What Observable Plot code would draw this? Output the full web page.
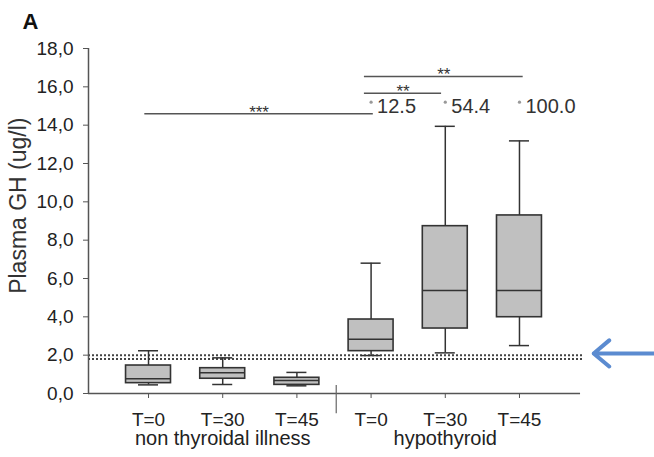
<!DOCTYPE html>
<html>
<head>
<meta charset="utf-8">
<script src="https://cdn.jsdelivr.net/npm/d3@7"></script>
<script src="https://cdn.jsdelivr.net/npm/@observablehq/plot@0.6"></script>
<style>
  html, body { margin: 0; padding: 0; background: #fff; }
  #chart { width: 654px; height: 457px; }
</style>
</head>
<body>
<div id="chart"></div>
<script>
// ---- data ----
const groupNames = ["non thyroidal illness", "hypothyroid"];
const groupCenters = [2, 5];
const timeLabels = ["T=0", "T=30", "T=45", "T=0", "T=30", "T=45"];
const positions = [1, 2, 3, 4, 5, 6];
const whiskerLow  = [0.45, 0.47, 0.40, 1.98, 2.12, 2.50];
const q1          = [0.54, 0.77, 0.45, 2.21, 3.39, 3.98];
const median      = [0.77, 1.08, 0.68, 2.83, 5.37, 5.37];
const q3          = [1.46, 1.32, 0.82, 3.86, 8.73, 9.29];
const whiskerHigh = [2.23, 1.86, 1.10, 6.80, 13.94, 13.18];

// off-scale outliers (value printed next to a marker)
const outlierPositions = [4, 5, 6];
const outlierLabels = ["12.5", "54.4", "100.0"];
const outlierY = 15.2;

// significance brackets
const sigFrom  = [0.95, 3.91, 3.91];
const sigTo    = [4.03, 4.95, 6.05];
const sigLevel = [14.6, 15.67, 16.54];
const sigStars = ["***", "**", "**"];

// reference (detection limit) lines
const refLines = [2.0, 1.8];
const yTicks = [0, 2, 4, 6, 8, 10, 12, 14, 16, 18];

// layout helpers (in x-scale units)
const xStart = 0.191, xAxisEnd = 6.823, refEnd = 6.86, xEnd = 7.82;
const separatorX = 3.53;
const arrowFrom = 7.82, arrowTo = 7.0, arrowY = 2.09;
const halfBox = 0.303, halfCap = 0.135;
const yLabelPos = {x: -0.752, y: 9.8};
const panelPos = {x: -0.699, y: 19.82};

const boxes = positions.map((p, i) => ({
  x: p, lo: whiskerLow[i], q1: q1[i], med: median[i], q3: q3[i], hi: whiskerHigh[i]
}));
const outliers = outlierPositions.map((p, i) => ({x: p, y: outlierY, label: outlierLabels[i]}));
const sigs = sigFrom.map((a, i) => ({x1: a, x2: sigTo[i], y: sigLevel[i], label: sigStars[i], xm: (a + sigTo[i]) / 2}));
const refs = refLines.map(v => ({y: v, x1: xStart, x2: refEnd}));
const groups = groupNames.map((g, i) => ({x: groupCenters[i], label: g}));

const font = "'Liberation Sans', Arial, sans-serif";
const ink = "#333";
const axisInk = "#555";

const chart = Plot.plot({
  width: 654,
  height: 457,
  marginLeft: 88,
  marginRight: 0,
  marginTop: 48,
  marginBottom: 64,
  style: {fontFamily: font, fontSize: "19px", color: "#222", background: "#fff"},
  x: {type: "linear", domain: [xStart, xEnd], axis: null},
  y: {type: "linear", domain: [0, 18], axis: null},
  marks: [
    // reference dotted lines
    Plot.ruleY(refs, {y: "y", x1: "x1", x2: "x2", stroke: "#444", strokeWidth: 2, strokeDasharray: "2,2"}),
    // y axis
    Plot.ruleX([{x: xStart}], {x: "x", y1: 0, y2: 18, stroke: axisInk, strokeWidth: 1.5}),
    Plot.axisY({ticks: yTicks, tickFormat: d => d.toFixed(1).replace(".", ","), tickSize: 5, tickPadding: 10, label: null, stroke: axisInk, fontSize: 19}),
    // x axis
    Plot.ruleY([{y: 0, x1: xStart, x2: xAxisEnd}], {y: "y", x1: "x1", x2: "x2", stroke: axisInk, strokeWidth: 1.5}),
    Plot.axisX({ticks: positions, tickFormat: d => timeLabels[d - 1], tickSize: 5, tickPadding: 14, label: null, stroke: axisInk, fontSize: 19}),
    Plot.ruleX([{x: separatorX}], {x: "x", y1: 0.42, y2: -1.05, stroke: "#666", strokeWidth: 1.2}),
    Plot.text(groups, {x: "x", text: "label", frameAnchor: "bottom", lineAnchor: "bottom", dy: 51, fontSize: 20, fill: "#222"}),
    // whiskers
    Plot.ruleX(boxes, {x: "x", y1: "q3", y2: "hi", stroke: ink, strokeWidth: 1.5}),
    Plot.ruleX(boxes, {x: "x", y1: "lo", y2: "q1", stroke: ink, strokeWidth: 1.5}),
    Plot.ruleY(boxes, {y: "hi", x1: d => d.x - halfCap, x2: d => d.x + halfCap, stroke: ink, strokeWidth: 1.5}),
    Plot.ruleY(boxes, {y: "lo", x1: d => d.x - halfCap, x2: d => d.x + halfCap, stroke: ink, strokeWidth: 1.5}),
    // boxes
    Plot.rect(boxes, {x1: d => d.x - halfBox, x2: d => d.x + halfBox, y1: "q1", y2: "q3", fill: "#c0c0c0", stroke: ink, strokeWidth: 1.6}),
    Plot.ruleY(boxes, {y: "med", x1: d => d.x - halfBox, x2: d => d.x + halfBox, stroke: ink, strokeWidth: 1.5}),
    // outliers
    Plot.dot(outliers, {x: "x", y: "y", r: 1.6, fill: "#999", stroke: null}),
    Plot.text(outliers, {x: "x", y: "y", text: "label", textAnchor: "start", lineAnchor: "bottom", dx: 6, dy: 10.5, fontSize: 20, fill: "#333"}),
    // significance brackets
    Plot.ruleY(sigs, {y: "y", x1: "x1", x2: "x2", stroke: "#555", strokeWidth: 1.5}),
    Plot.text(sigs, {x: "xm", y: "y", text: "label", lineAnchor: "bottom", dy: 4, fontSize: 17, fill: "#333"}),
    // arrow pointing at the reference lines
    Plot.arrow([{x1: arrowFrom, x2: arrowTo, y: arrowY}], {x1: "x1", x2: "x2", y1: "y", y2: "y", stroke: "#5b8bd0", strokeWidth: 4, headLength: 8, headAngle: 80}),
    // y label and panel letter
    Plot.text([yLabelPos], {x: "x", y: "y", text: () => "Plasma GH (ug/l)", rotate: -90, fontSize: 23, fill: "#333"}),
    Plot.text([panelPos], {x: "x", y: "y", text: () => "A", textAnchor: "start", lineAnchor: "top", fontSize: 22, fontWeight: "bold", fill: "#111"})
  ]
});
document.getElementById("chart").appendChild(chart);
</script>
</body>
</html>
